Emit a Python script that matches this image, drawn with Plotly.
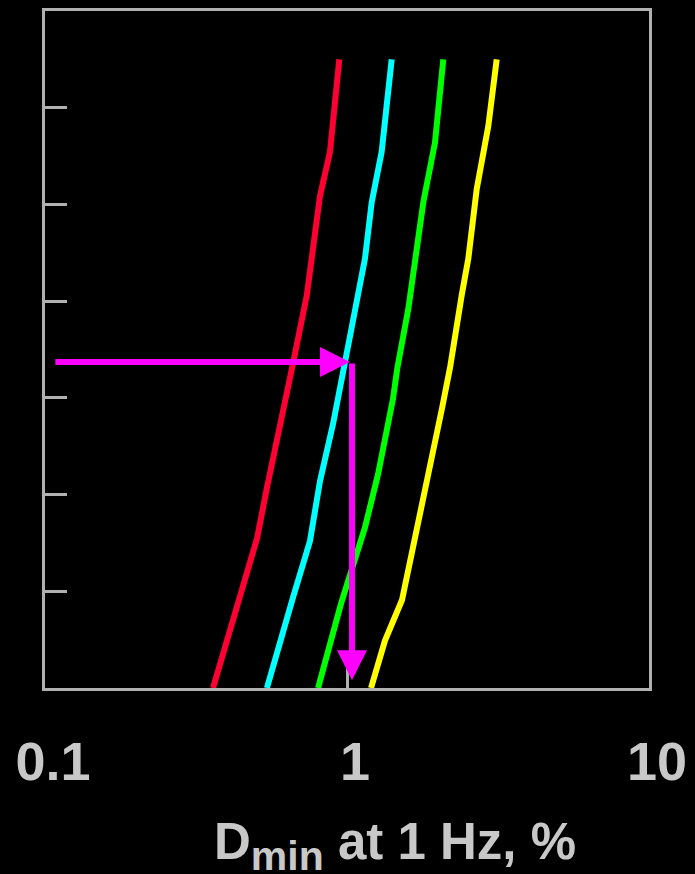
import numpy as np
import plotly.graph_objects as go

# ---- data ----
red_x = [0.360, 0.400, 0.449, 0.504, 0.543, 0.585, 0.632, 0.664, 0.736, 0.774, 0.814, 0.878, 0.943]
red_y = [0.00, 0.49, 0.98, 1.55, 2.07, 2.55, 2.99, 3.37, 4.06, 4.54, 5.09, 5.54, 6.50]

cyan_x = [0.543, 0.600, 0.663, 0.754, 0.814, 0.899, 0.992, 1.077, 1.147, 1.207, 1.302, 1.406]
cyan_y = [0.00, 0.49, 0.94, 1.52, 2.14, 2.73, 3.41, 3.99, 4.44, 5.02, 5.54, 6.50]

green_x = [0.802, 0.899, 0.955, 1.147, 1.267, 1.420, 1.468, 1.596, 1.701, 1.789, 1.956, 2.084]
green_y = [0.00, 0.60, 0.87, 1.66, 2.21, 2.99, 3.31, 3.92, 4.48, 5.02, 5.64, 6.50]

yellow_x = [1.201, 1.336, 1.521, 1.718, 1.858, 2.063, 2.193, 2.398, 2.522, 2.689, 2.937, 3.131]
yellow_y = [0.00, 0.49, 0.91, 1.66, 2.21, 2.89, 3.31, 4.06, 4.44, 5.16, 5.81, 6.50]

# guide arrow: horizontal then vertical
arrow_h_start = (0.107, 3.37)
arrow_h_end = (1.023, 3.37)
arrow_v_start = (1.039, 3.37)
arrow_v_end = (1.039, 0.08)

x_tickvals = [0.1, 1, 10]
x_ticktext = ["0.1", "1", "10"]
y_tickvals = [1, 2, 3, 4, 5, 6]

series = [
    (red_x, red_y, "#ff0033"),
    (cyan_x, cyan_y, "#00ffff"),
    (green_x, green_y, "#00ff00"),
    (yellow_x, yellow_y, "#ffff00"),
]

fig = go.Figure()
for xs, ys, col in series:
    fig.add_trace(go.Scatter(x=xs, y=ys, mode="lines",
                             line=dict(color=col, width=6),
                             hoverinfo="skip"))

MAG = "#ff00ff"
for (sx, sy), (ex, ey) in [(arrow_h_start, arrow_h_end), (arrow_v_start, arrow_v_end)]:
    fig.add_annotation(x=np.log10(ex), y=ey, ax=np.log10(sx), ay=sy,
                       xref="x", yref="y", axref="x", ayref="y",
                       showarrow=True, arrowhead=2, arrowsize=1,
                       arrowwidth=6, arrowcolor=MAG, text="", standoff=0)

GRAY = "#b0b0b0"
TXT = "#c8c8c8"
fig.add_annotation(
    text="D<sub><span style='font-size:41px'>min</span></sub> at 1 Hz, %",
    xref="paper", yref="paper", x=0.58, y=-0.181,
    xanchor="center", yanchor="top", showarrow=False,
    font=dict(family="Liberation Sans, Arial", size=51, color=TXT, weight="bold"))

fig.update_xaxes(type="log", range=[-1, 1],
                 tickvals=x_tickvals, ticktext=x_ticktext,
                 ticks="inside", ticklen=23, tickwidth=3, tickcolor=GRAY,
                 showline=True, linecolor=GRAY, linewidth=3, mirror=True,
                 showgrid=False, zeroline=False,
                 ticklabelshift=8, ticklabelstandoff=24,
                 tickfont=dict(family="Liberation Sans, Arial", size=54, color=TXT, weight="bold"))
fig.update_yaxes(range=[0, 7], tickvals=y_tickvals,
                 ticks="inside", ticklen=22, tickwidth=3, tickcolor=GRAY,
                 showticklabels=False,
                 showline=True, linecolor=GRAY, linewidth=3, mirror=True,
                 showgrid=False, zeroline=False)

fig.update_layout(width=695, height=874,
                  margin=dict(l=45, r=46, t=8, b=186),
                  paper_bgcolor="black", plot_bgcolor="black",
                  showlegend=False)

fig.write_html("out.html")
